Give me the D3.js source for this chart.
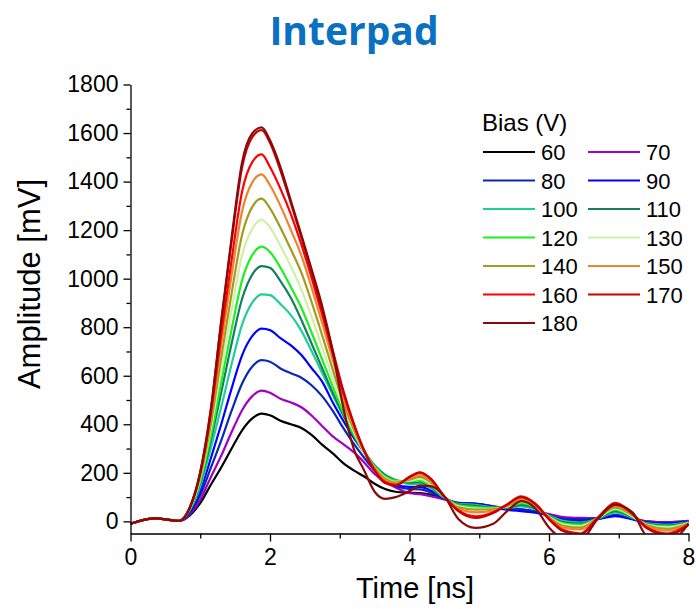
<!DOCTYPE html>
<html>
<head>
<meta charset="utf-8">
<script src="https://cdn.jsdelivr.net/npm/d3@7"></script>
<style>
  html, body { margin: 0; padding: 0; background: #fff; }
  svg { display: block; }
</style>
</head>
<body>
<svg id="chart" width="696" height="609"></svg>
<script>
// Sample times (ns) shared by every waveform
const timeNs = [0, 0.35, 0.7, 0.85, 1.0, 1.15, 1.3, 1.45, 1.6, 1.75, 1.88,
  2.0, 2.15, 2.3, 2.45, 2.6, 2.75, 2.9, 3.05, 3.2, 3.35, 3.5, 3.65, 3.8,
  4.0, 4.15, 4.3, 4.5, 4.7, 4.95, 5.2, 5.4, 5.6, 5.8, 6.0, 6.2, 6.45, 6.7, 6.95, 7.2, 7.4, 7.7, 8.0];

// Bias voltages (V)
const biasLevels = [60, 70, 80, 90, 100, 110, 120, 130, 140, 150, 160, 170, 180];

// Averaged pulse amplitude (mV) per bias voltage
const amp60  = [-10, 12, 2, 25, 75, 150, 222, 300, 375, 425, 444, 437, 415, 400, 385, 355, 315, 280, 240, 210, 185, 155, 133, 122, 118, 116, 110, 92, 76, 72, 62, 52, 48, 40, 28, 14, 10, 12, 25, 12, 0, -4, 2];
const amp70  = [-10, 12, 2, 29, 89, 181, 270, 368, 458, 517, 539, 530, 505, 490, 470, 435, 392, 350, 318, 285, 243, 195, 162, 140, 116, 112, 104, 90, 75, 72, 62, 53, 50, 42, 30, 18, 14, 13, 26, 12, 0, -4, 2];
const amp80  = [-10, 12, 2, 35, 108, 219, 333, 456, 568, 639, 664, 658, 630, 610, 592, 560, 515, 455, 385, 320, 262, 210, 170, 146, 134, 132, 120, 93, 74, 72, 60, 52, 48, 40, 26, 10, 8, 11, 26, 10, -4, -8, 0];
const amp90  = [-10, 12, 2, 40, 125, 258, 399, 548, 684, 765, 794, 788, 755, 725, 685, 630, 575, 490, 415, 345, 285, 225, 180, 152, 142, 142, 128, 95, 75, 72, 58, 48, 42, 36, 24, 6, 2, 9, 22, 8, -6, -9, -2];
const amp100 = [-10, 12, 2, 46, 144, 299, 470, 648, 811, 903, 935, 932, 895, 850, 785, 700, 610, 520, 435, 355, 290, 232, 192, 170, 154, 154, 137, 97, 72, 68, 58, 56, 62, 50, 24, 2, -5, 11, 36, 14, -8, -14, -4];
const amp110 = [-10, 12, 2, 49, 158, 331, 530, 733, 917, 1019, 1052, 1045, 990, 920, 830, 730, 630, 530, 440, 355, 285, 228, 190, 170, 160, 162, 143, 98, 70, 64, 56, 58, 68, 54, 22, -3, -9, 12, 42, 16, -10, -17, -5];
const amp120 = [-10, 12, 2, 51, 166, 351, 572, 792, 994, 1099, 1132, 1110, 1045, 965, 880, 775, 665, 555, 450, 360, 285, 225, 185, 168, 165, 168, 148, 99, 66, 59, 55, 60, 75, 58, 20, -8, -14, 12, 48, 18, -12, -21, -6];
const amp130 = [-10, 12, 2, 53, 178, 379, 628, 873, 1097, 1208, 1242, 1212, 1135, 1050, 955, 840, 715, 590, 470, 370, 285, 222, 180, 163, 168, 175, 155, 100, 62, 53, 52, 62, 80, 62, 18, -12, -20, 13, 52, 20, -14, -25, -7];
const amp140 = [-10, 12, 2, 55, 185, 399, 674, 940, 1181, 1298, 1330, 1290, 1210, 1120, 1025, 900, 765, 625, 490, 380, 288, 220, 176, 160, 172, 183, 162, 101, 58, 48, 50, 64, 88, 66, 16, -18, -26, 14, 58, 24, -16, -31, -9];
const amp150 = [-10, 12, 2, 56, 193, 422, 726, 1015, 1278, 1399, 1430, 1385, 1300, 1200, 1095, 960, 815, 665, 515, 390, 290, 218, 170, 155, 176, 191, 168, 102, 53, 37, 44, 66, 95, 70, 14, -25, -33, 15, 65, 28, -20, -38, -10];
const amp160 = [-10, 12, 2, 57, 198, 438, 768, 1078, 1359, 1482, 1512, 1460, 1370, 1265, 1140, 1000, 850, 690, 530, 400, 292, 212, 162, 150, 182, 202, 176, 103, 46, 21, 38, 70, 103, 74, 12, -35, -50, 16, 76, 32, -24, -50, -12];
const amp170 = [-10, 12, 2, 58, 205, 459, 820, 1156, 1459, 1585, 1612, 1560, 1445, 1310, 1170, 1025, 870, 705, 540, 405, 292, 208, 158, 148, 184, 201, 177, 102, 42, 14, 34, 69, 100, 72, 8, -40, -55, 14, 72, 30, -28, -56, -14];
const amp180 = [-10, 12, 2, 55, 200, 455, 825, 1170, 1480, 1600, 1623, 1570, 1460, 1320, 1180, 1035, 885, 700, 470, 300, 210, 122, 93, 100, 125, 147, 145, 103, 10, -27, -10, 42, 83, 55, -25, -70, -75, 10, 68, 36, -60, -85, -10];

const amplitudes = [amp60, amp70, amp80, amp90, amp100, amp110, amp120, amp130, amp140, amp150, amp160, amp170, amp180];

const lineColors = ["#000000", "#a000c8", "#0a28b8", "#0000ff", "#1fcf98", "#12805e", "#1ef01e",
  "#d0f0a8", "#a49b1e", "#f0832e", "#ff0000", "#c80000", "#8a0a0a"];

const xTicksMajor = [0, 2, 4, 6, 8];
const xTicksMinor = [1, 3, 5, 7];
const yTicksMajor = [0, 200, 400, 600, 800, 1000, 1200, 1400, 1600, 1800];
const yTicksMinor = [100, 300, 500, 700, 900, 1100, 1300, 1500, 1700];

const series = biasLevels.map((b, i) => ({
  bias: b,
  color: lineColors[i],
  points: timeNs.map((t, k) => ({ t, v: amplitudes[i][k] }))
}));

const svg = d3.select("#chart");
const plot = { left: 130.5, right: 688.5, top: 84.5, bottom: 533.5 };

const x = d3.scaleLinear().domain([0, 8]).range([plot.left, plot.right]);
const y = d3.scaleLinear().domain([-50, 1800]).range([plot.bottom, plot.top]);

const font = "'Liberation Sans', Arial, sans-serif";

// Title
svg.append("text")
  .attr("x", 354).attr("y", 45)
  .attr("text-anchor", "middle")
  .attr("font-family", "'Open Sans', sans-serif")
  .attr("font-weight", "bold")
  .attr("font-size", 39)
  .attr("fill", "#0a70c0")
  .text("Interpad");

// Clip for the waveforms
svg.append("defs").append("clipPath").attr("id", "plotClip")
  .append("rect")
  .attr("x", plot.left).attr("y", plot.top)
  .attr("width", plot.right - plot.left + 2)
  .attr("height", plot.bottom - plot.top);

const line = d3.line()
  .x(d => x(d.t))
  .y(d => y(d.v))
  .curve(d3.curveMonotoneX);

svg.append("g").attr("clip-path", "url(#plotClip)")
  .selectAll("path")
  .data(series)
  .join("path")
  .attr("d", d => line(d.points))
  .attr("fill", "none")
  .attr("stroke", d => d.color)
  .attr("stroke-width", 2.2)
  .attr("stroke-linejoin", "round");

// Axes
function styleAxis(g) {
  g.select(".domain").attr("stroke", "#000").attr("stroke-width", 1.3);
  g.selectAll(".tick line").attr("stroke", "#000").attr("stroke-width", 1.3);
  g.selectAll(".tick text").attr("font-size", 23).attr("fill", "#000").attr("font-family", font);
}

svg.append("g")
  .attr("transform", `translate(0,${plot.bottom})`)
  .call(d3.axisBottom(x).tickValues(xTicksMinor).tickSize(5).tickFormat(""))
  .call(g => g.select(".domain").remove())
  .call(styleAxis);

svg.append("g")
  .attr("transform", `translate(0,${plot.bottom})`)
  .call(d3.axisBottom(x).tickValues(xTicksMajor).tickSize(8).tickSizeOuter(0).tickPadding(7).tickFormat(d3.format("d")))
  .call(styleAxis);

svg.append("g")
  .attr("transform", `translate(${plot.left},0)`)
  .call(d3.axisLeft(y).tickValues(yTicksMinor).tickSize(4).tickFormat(""))
  .call(g => g.select(".domain").remove())
  .call(styleAxis);

svg.append("g")
  .attr("transform", `translate(${plot.left},0)`)
  .call(d3.axisLeft(y).tickValues(yTicksMajor).tickSize(7).tickSizeOuter(0).tickPadding(5).tickFormat(d3.format("d")))
  .call(styleAxis);

// Axis titles
svg.append("text")
  .attr("x", 415).attr("y", 598)
  .attr("text-anchor", "middle")
  .attr("font-family", font).attr("font-size", 29)
  .text("Time [ns]");

svg.append("text")
  .attr("transform", "translate(40,284) rotate(-90)")
  .attr("text-anchor", "middle")
  .attr("font-family", font).attr("font-size", 31)
  .text("Amplitude [mV]");

// Legend
const legend = svg.append("g").attr("font-family", font);
legend.append("text")
  .attr("x", 482).attr("y", 131)
  .attr("font-size", 24)
  .text("Bias (V)");

const item = legend.selectAll("g.item")
  .data(series)
  .join("g")
  .attr("class", "item")
  .attr("transform", (d, i) => `translate(${i % 2 === 0 ? 483 : 588},${152 + Math.floor(i / 2) * 28.5})`);

item.append("line")
  .attr("x1", 0).attr("x2", 52).attr("y1", 0).attr("y2", 0)
  .attr("stroke", d => d.color).attr("stroke-width", 2.2);

item.append("text")
  .attr("x", 58).attr("y", 8)
  .attr("font-size", 22)
  .text(d => d.bias);
</script>
</body>
</html>
